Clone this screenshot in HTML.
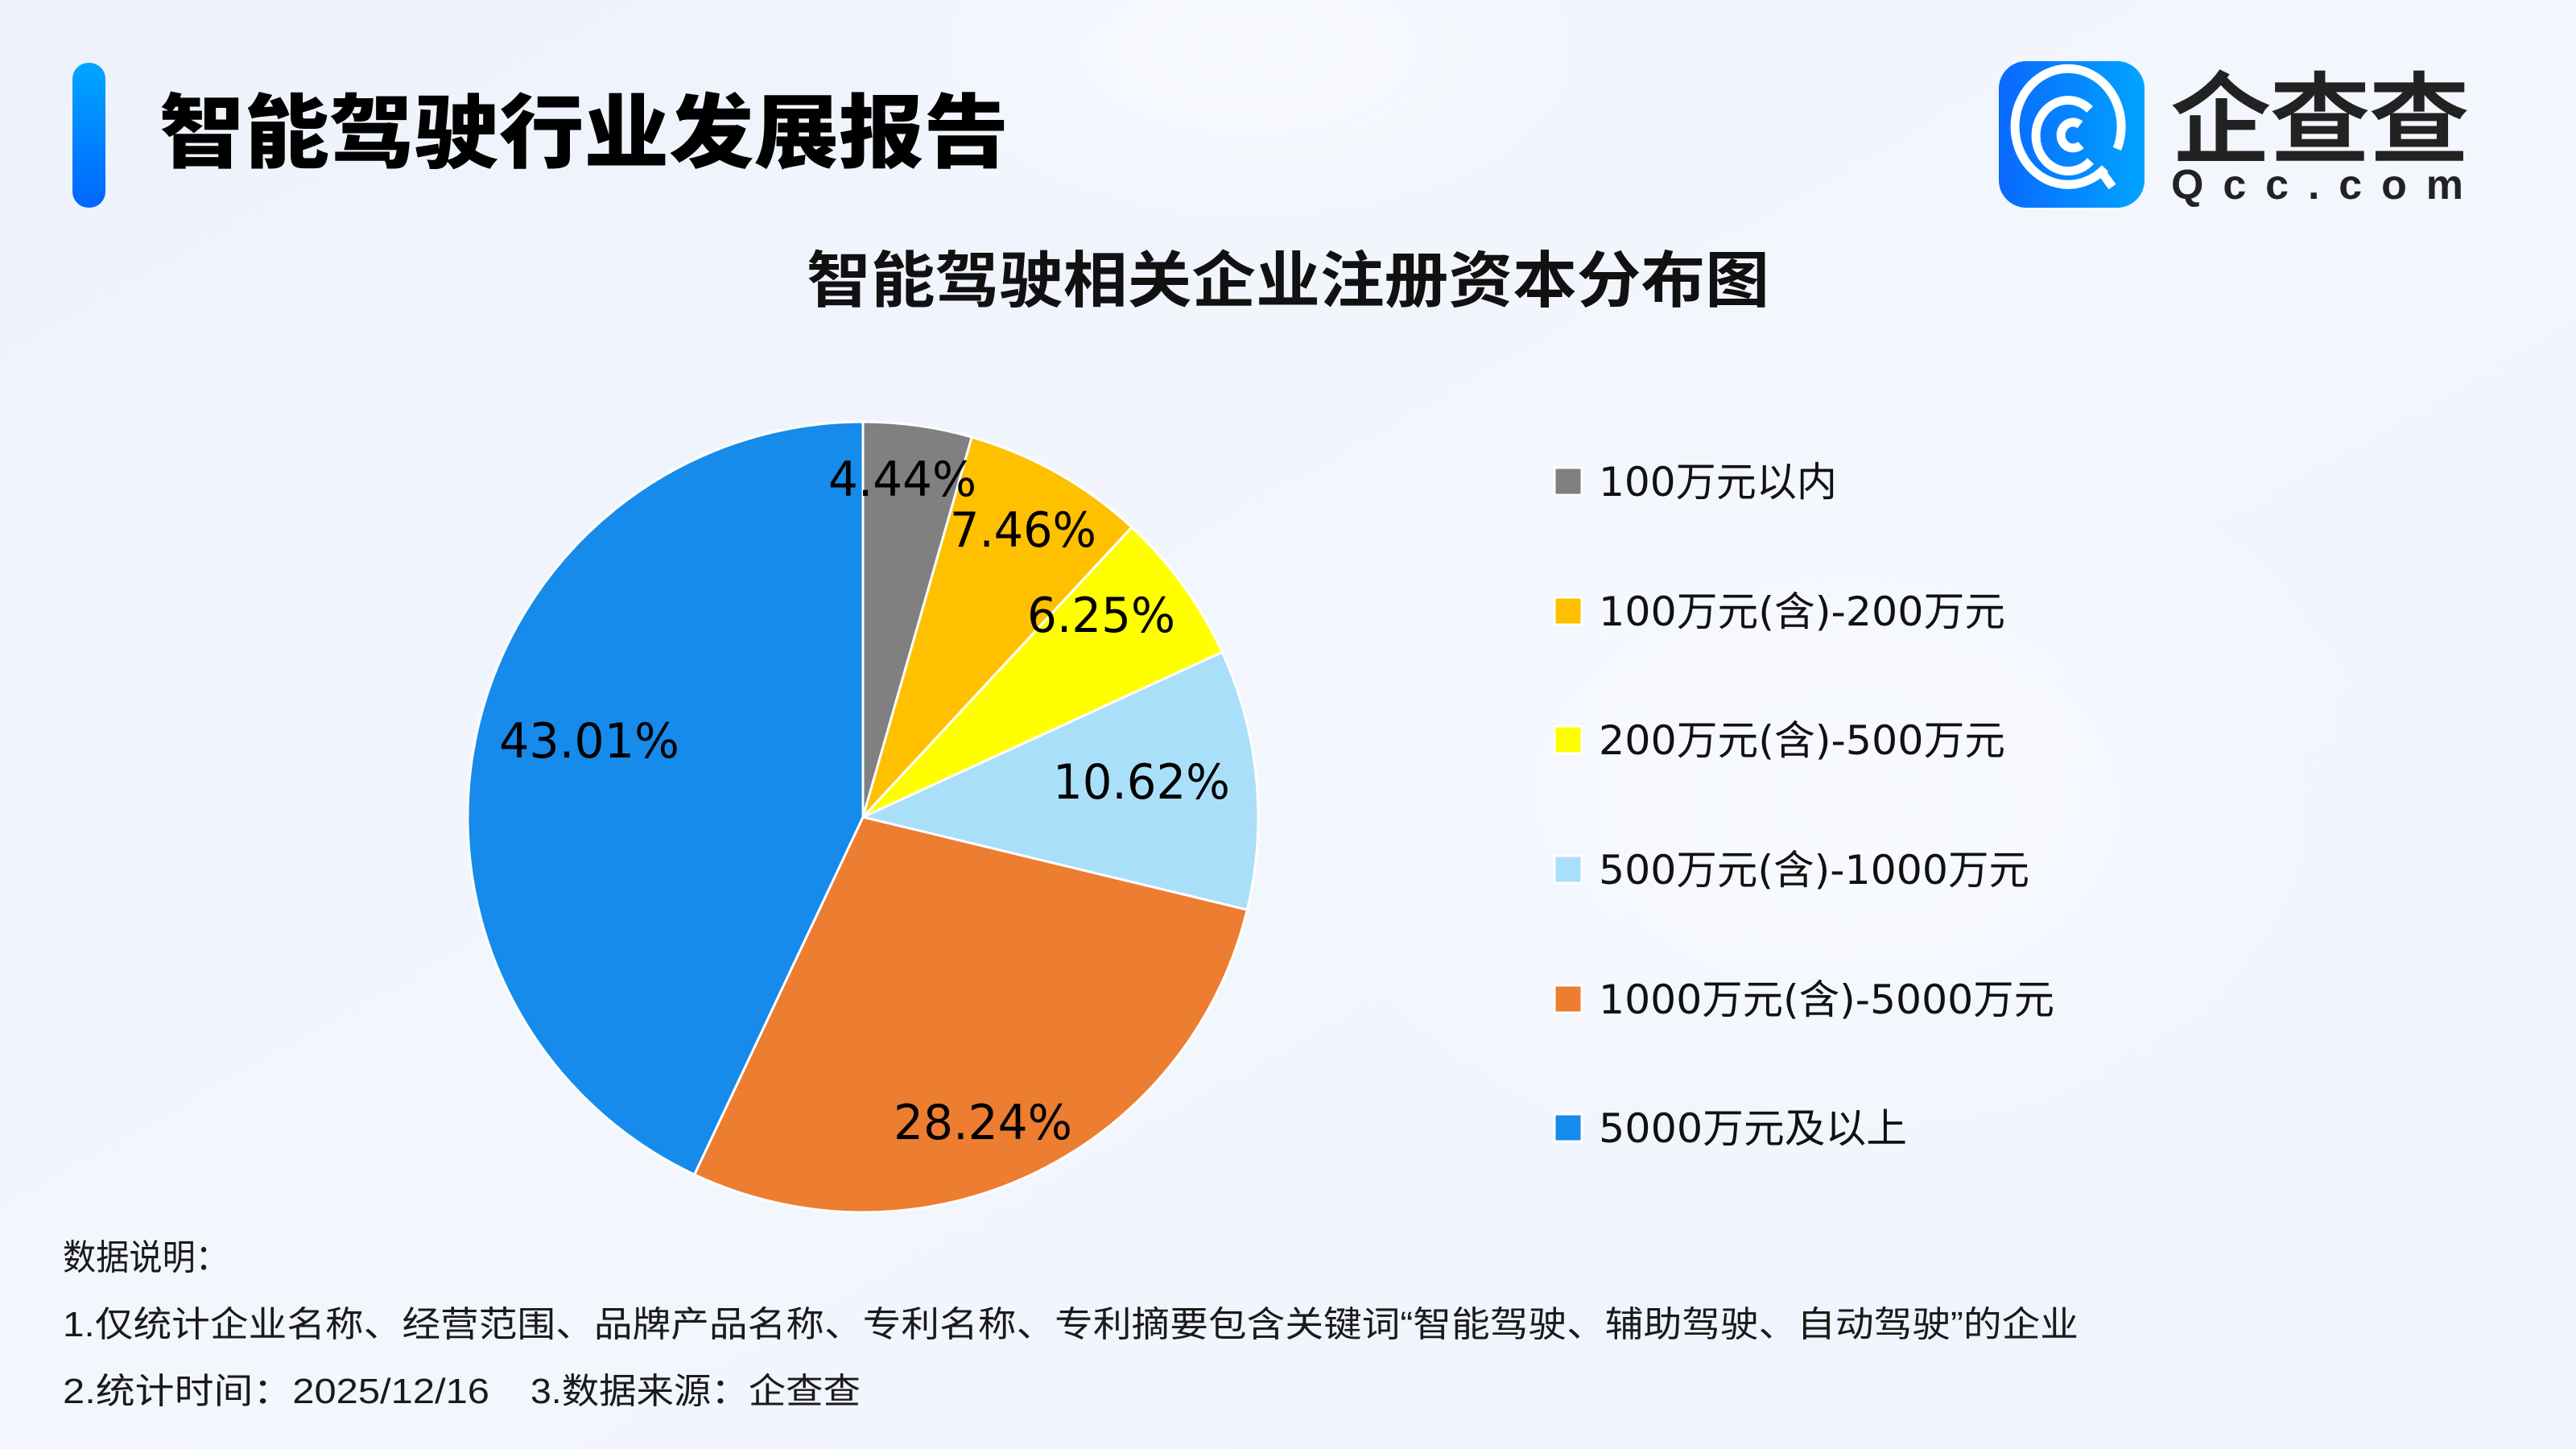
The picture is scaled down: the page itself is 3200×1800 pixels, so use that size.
<!DOCTYPE html>
<html><head><meta charset="utf-8"><style>
html,body{margin:0;padding:0;width:3200px;height:1800px;overflow:hidden}
svg{display:block}
</style></head><body>
<svg width="3200" height="1800" viewBox="0 0 3200 1800" xmlns="http://www.w3.org/2000/svg">
<defs>
<linearGradient id="bg" x1="0" y1="0" x2="1" y2="1">
<stop offset="0" stop-color="#edf2fb"/><stop offset="0.5" stop-color="#f3f6fd"/><stop offset="1" stop-color="#eef3fc"/>
</linearGradient>
<radialGradient id="blob" cx="0.5" cy="0.5" r="0.5">
<stop offset="0" stop-color="#f8faff"/><stop offset="1" stop-color="#f8faff" stop-opacity="0"/>
</radialGradient>
<linearGradient id="bar" x1="0" y1="0" x2="0" y2="1">
<stop offset="0" stop-color="#00a6ff"/><stop offset="1" stop-color="#0066ff"/>
</linearGradient>
<linearGradient id="ico" x1="0" y1="0" x2="1" y2="0">
<stop offset="0" stop-color="#0a68ff"/><stop offset="1" stop-color="#00a4ff"/>
</linearGradient>
</defs>
<rect width="3200" height="1800" fill="url(#bg)"/>
<ellipse cx="1550" cy="60" rx="500" ry="260" fill="url(#blob)"/>
<ellipse cx="2300" cy="1000" rx="700" ry="500" fill="url(#blob)"/>

<rect x="90" y="78" width="41" height="180" rx="20" fill="url(#bar)"/>
<text x="198" y="200" font-family="'Liberation Sans','Noto Sans CJK SC',sans-serif" font-weight="900" font-size="100" textLength="1055" lengthAdjust="spacingAndGlyphs" fill="#000">智能驾驶行业发展报告</text>

<rect x="2483" y="76" width="181" height="182" rx="34" fill="url(#ico)"/>
<g fill="none" stroke="#fff" stroke-width="11" stroke-linecap="butt">
<path d="M2615 209 A66 72 0 1 1 2630 185"/>
<path d="M2596 136 A40 44 0 1 0 2597 200"/>
<path d="M2584 155 A15 16 0 1 0 2585 180"/>
<path d="M2608 210 L2624 232"/>
</g>
<text x="2697" y="192" font-family="'Liberation Sans','Noto Sans CJK SC',sans-serif" font-weight="500" font-size="122" textLength="370" lengthAdjust="spacingAndGlyphs" fill="#222" stroke="#222" stroke-width="2">企查查</text>
<text x="2697" y="247" font-family="'Liberation Sans',sans-serif" font-weight="bold" font-size="52" textLength="363" lengthAdjust="spacing" fill="#222">Qcc.com</text>

<text x="1002" y="375" font-family="'Liberation Sans','Noto Sans CJK SC',sans-serif" font-weight="bold" font-size="76" textLength="1196" lengthAdjust="spacingAndGlyphs" fill="#111">智能驾驶相关企业注册资本分布图</text>

<g stroke="#fff" stroke-width="3" stroke-linejoin="round">
<path d="M1072 1015 L1072 524 A491 491 0 0 1 1207.2 543.0 Z" fill="#808080"/>
<path d="M1072 1015 L1207.2 543.0 A491 491 0 0 1 1405.9 655.0 Z" fill="#ffc000"/>
<path d="M1072 1015 L1405.9 655.0 A491 491 0 0 1 1518.2 810.1 Z" fill="#ffff00"/>
<path d="M1072 1015 L1518.2 810.1 A491 491 0 0 1 1549.3 1130.2 Z" fill="#a9dff9"/>
<path d="M1072 1015 L1549.3 1130.2 A491 491 0 0 1 862.6 1459.1 Z" fill="#ed7d31"/>
<path d="M1072 1015 L862.6 1459.1 A491 491 0 0 1 1072 524 Z" fill="#168beb"/>
</g>
<g font-family="'DejaVu Sans','Liberation Sans',sans-serif" font-size="60" fill="#000">
<text x="1029" y="616" textLength="184" lengthAdjust="spacingAndGlyphs">4.44%</text>
<text x="1180" y="679" textLength="182" lengthAdjust="spacingAndGlyphs">7.46%</text>
<text x="1276" y="785" textLength="184" lengthAdjust="spacingAndGlyphs">6.25%</text>
<text x="1308" y="992" textLength="220" lengthAdjust="spacingAndGlyphs">10.62%</text>
<text x="620" y="941" textLength="224" lengthAdjust="spacingAndGlyphs">43.01%</text>
<text x="1110" y="1415" textLength="222" lengthAdjust="spacingAndGlyphs">28.24%</text>
</g>

<g stroke="#fff" stroke-width="3">
<rect x="1931" y="581" width="34" height="34" fill="#808080"/>
<rect x="1931" y="742" width="34" height="34" fill="#ffc000"/>
<rect x="1931" y="902" width="34" height="34" fill="#ffff00"/>
<rect x="1931" y="1063" width="34" height="34" fill="#a9dff9"/>
<rect x="1931" y="1224" width="34" height="34" fill="#ed7d31"/>
<rect x="1931" y="1384" width="34" height="34" fill="#168beb"/>
</g>
<g font-family="'DejaVu Sans','Noto Sans CJK SC',sans-serif" font-size="50" fill="#111">
<text x="1986" y="616" textLength="296" lengthAdjust="spacingAndGlyphs">100万元以内</text>
<text x="1986" y="777" textLength="505" lengthAdjust="spacingAndGlyphs">100万元(含)-200万元</text>
<text x="1986" y="937" textLength="505" lengthAdjust="spacingAndGlyphs">200万元(含)-500万元</text>
<text x="1986" y="1098" textLength="535" lengthAdjust="spacingAndGlyphs">500万元(含)-1000万元</text>
<text x="1986" y="1259" textLength="566" lengthAdjust="spacingAndGlyphs">1000万元(含)-5000万元</text>
<text x="1986" y="1419" textLength="383" lengthAdjust="spacingAndGlyphs">5000万元及以上</text>
</g>

<g font-family="'Liberation Sans','Noto Sans CJK SC',sans-serif" font-size="44" fill="#1a1a1a">
<text x="78" y="1577" textLength="206" lengthAdjust="spacingAndGlyphs">数据说明：</text>
<text x="78" y="1660" textLength="2504" lengthAdjust="spacingAndGlyphs">1.仅统计企业名称、经营范围、品牌产品名称、专利名称、专利摘要包含关键词“智能驾驶、辅助驾驶、自动驾驶”的企业</text>
<text x="78" y="1743" textLength="530" lengthAdjust="spacingAndGlyphs">2.统计时间：2025/12/16</text>
<text x="659" y="1743" textLength="410" lengthAdjust="spacingAndGlyphs">3.数据来源：企查查</text>
</g>
</svg>
</body></html>
